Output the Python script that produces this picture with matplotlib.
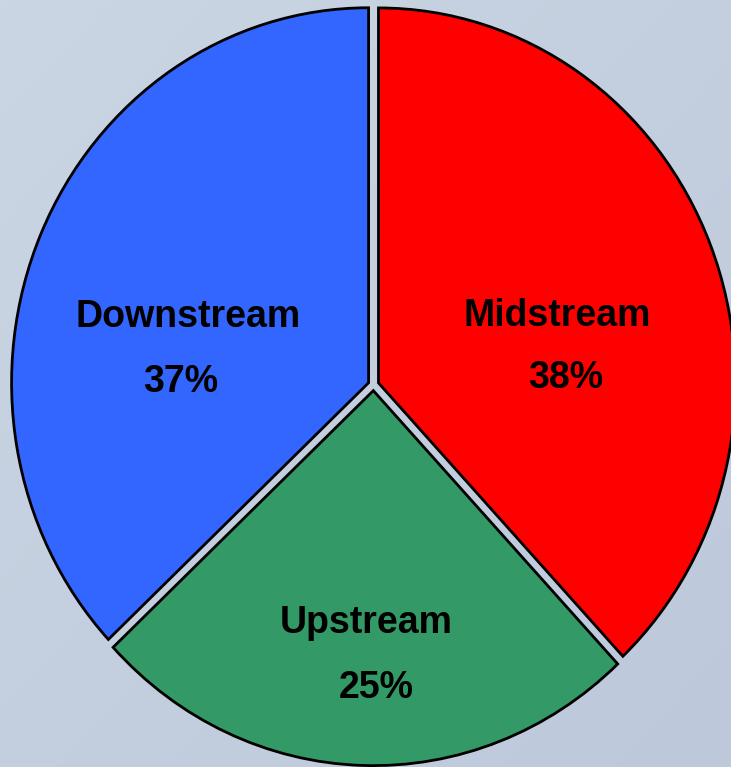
import matplotlib.pyplot as plt
import numpy as np

# segment shares
segments = ['Midstream', 'Upstream', 'Downstream']
shares = [38, 25, 37]
colors = ['#ff0000', '#339966', '#3366ff']

# where the name and the percentage sit (data units, pie radius = 1)
name_xy = [(0.514, 0.184), (-0.02, -0.634), (-0.518, 0.181)]
pct_xy = [(0.537, 0.018), (0.007, -0.808), (-0.539, 0.008)]

W, H = 731, 767
fig = plt.figure(figsize=(W / 100, H / 100), dpi=100)

# soft blue-grey backdrop
bg = fig.add_axes([0, 0, 1, 1])
yy, xx = np.mgrid[0:1:200j, 0:1:200j]
grad = 0.5 * xx + 0.5 * yy
bg.imshow(grad, cmap=plt.matplotlib.colors.LinearSegmentedColormap.from_list(
    'bg', ['#cad6e3', '#bdc8db']), extent=[0, 1, 0, 1], aspect='auto')
bg.axis('off')

ax = fig.add_axes([0, 0, 1, 1])
ax.patch.set_alpha(0)

cx, cy = 373.5, 385    # pie centre in pixels from top-left
rx, ry = 357, 375      # horizontal / vertical radius in pixels

wedges, _ = ax.pie(shares, colors=colors, startangle=90, counterclock=False,
                   explode=[0.015] * 3, radius=1,
                   wedgeprops=dict(edgecolor='black', linewidth=2))
ax.set_aspect('auto')
ax.set_xlim(-cx / rx, (W - cx) / rx)
ax.set_ylim(-(H - cy) / ry, cy / ry)
ax.axis('off')

total = sum(shares)
for name, v, (x, y), (px, py) in zip(segments, shares, name_xy, pct_xy):
    ax.text(x, y, name, ha='center', va='center', fontsize=27,
            fontweight='bold', family='Liberation Sans')
    ax.text(px, py, f'{v / total * 100:.0f}%', ha='center', va='center',
            fontsize=27, fontweight='bold', family='Liberation Sans')

fig.savefig('out.png', dpi=100)
